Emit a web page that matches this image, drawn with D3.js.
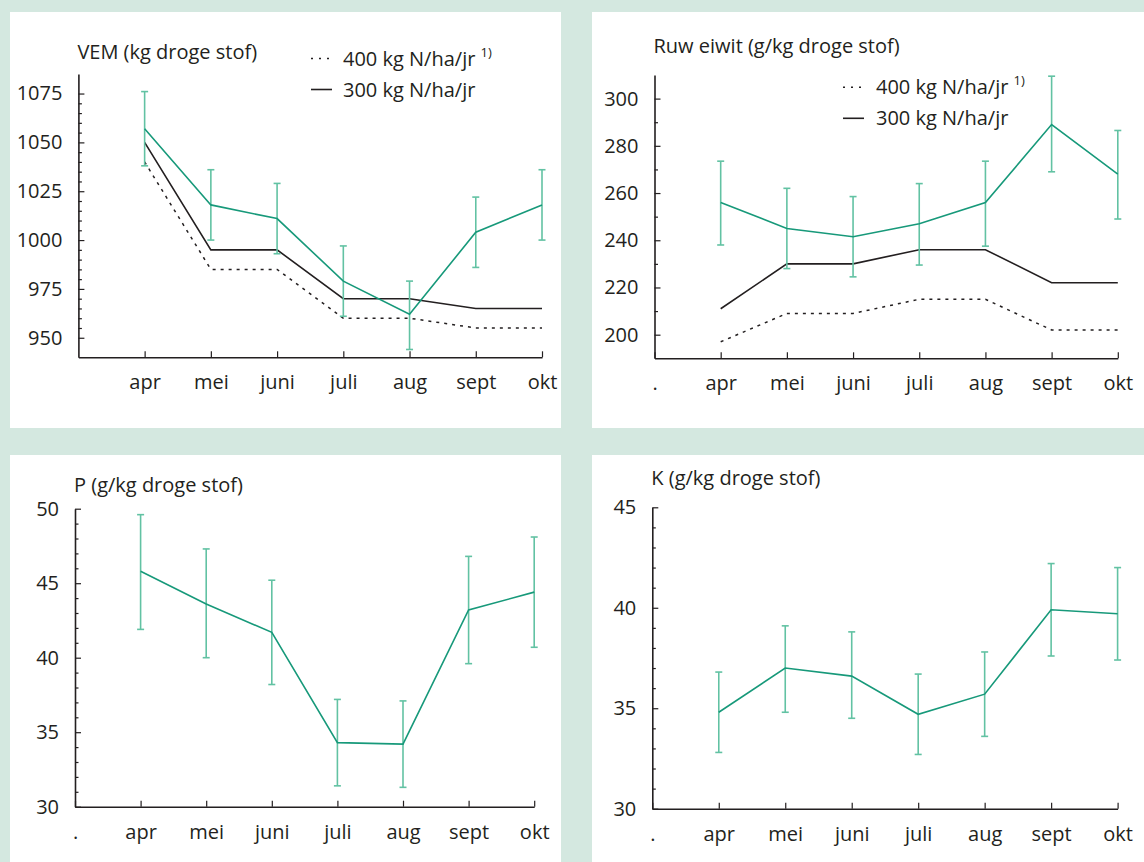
<!DOCTYPE html>
<html><head><meta charset="utf-8">
<script src="https://cdn.jsdelivr.net/npm/d3@7"></script>
<style>
body{margin:0;background:#d4e8e0;}
svg{display:block;}
text{font-family:"Open Sans",sans-serif;fill:#231f20;}
</style>
</head><body>
<svg id="c" width="1144" height="862"></svg>
<script>
// ---------- data ----------
const months = ["apr","mei","juni","juli","aug","sept","okt"];
const catsDot = [".","apr","mei","juni","juli","aug","sept","okt"];

const vemTicks = [950,975,1000,1025,1050,1075];
const vemMean = [1057,1018,1011,979,962,1004,1018];
const vemLow  = [1038,1000,993,961,944,986,1000];
const vemHigh = [1076,1036,1029,997,979,1022,1036];
const vem300  = [1050,995,995,970,970,965,965];
const vem400  = [1040,985,985,960,960,955,955];

const eiwitTicks = [200,220,240,260,280,300];
const eiwitMean = [256,245,241.5,247,256,289,268];
const eiwitLow  = [238,228,224.5,229.5,237.5,269,249];
const eiwitHigh = [273.5,262,258.5,264,273.5,309.5,286.5];
const eiwit300  = [211,230,230,236,236,222,222];
const eiwit400  = [197,209,209,215,215,202,202];

const pTicks = [30,35,40,45,50];
const pMean = [45.8,43.6,41.7,34.3,34.2,43.2,44.4];
const pLow  = [41.9,40.0,38.2,31.4,31.3,39.6,40.7];
const pHigh = [49.6,47.3,45.2,37.2,37.1,46.8,48.1];

const kTicks = [30,35,40,45];
const kMean = [34.8,37.0,36.6,34.7,35.7,39.9,39.7];
const kLow  = [32.8,34.8,34.5,32.7,33.6,37.6,37.4];
const kHigh = [36.8,39.1,38.8,36.7,37.8,42.2,42.0];

const legend400 = "400 kg N/ha/jr";
const legend300 = "300 kg N/ha/jr";
const legendSup = "1)";

// ---------- layout ----------
const GREEN = "#17997a", ERR = "#62c2a3";
const FS = 20;

const panels = [
  {rect:[10,12,551,416], x0:78.4, x1:542, yTop:74, yBot:357.3, domain:[940,1085], ticks:vemTicks, minor:5,
   tickCats:months, title:"VEM (kg droge stof)", titleY:58.7,
   mean:vemMean, low:vemLow, high:vemHigh, s300:vem300, s400:vem400, legend:{x:311, y:58.5, tx:343, dy:31}},
  {rect:[592,12,552,416], x0:654.5, x1:1117.8, yTop:75, yBot:358.3, domain:[190,310], ticks:eiwitTicks, minor:10,
   tickCats:catsDot, title:"Ruw eiwit (g/kg droge stof)", titleY:53.3,
   mean:eiwitMean, low:eiwitLow, high:eiwitHigh, s300:eiwit300, s400:eiwit400, legend:{x:843, y:87.3, tx:876, dy:31}},
  {rect:[10,455,551,407], x0:75, x1:534.2, yTop:508.7, yBot:806.7, domain:[30,50], ticks:pTicks, minor:1,
   tickCats:catsDot, title:"P (g/kg droge stof)", titleY:491.7,
   mean:pMean, low:pLow, high:pHigh},
  {rect:[592,455,552,407], x0:652.3, x1:1117.6, yTop:507.3, yBot:808.7, domain:[30,45], ticks:kTicks, minor:1,
   tickCats:catsDot, title:"K (g/kg droge stof)", titleY:485,
   mean:kMean, low:kLow, high:kHigh}
];

const svg = d3.select("#c");

panels.forEach(p => {
  const g = svg.append("g");
  g.append("rect").attr("x",p.rect[0]).attr("y",p.rect[1]).attr("width",p.rect[2]).attr("height",p.rect[3]).attr("fill","#fff");

  const x = d3.scalePoint().domain(catsDot).range([p.x0,p.x1]).padding(0);
  const y = d3.scaleLinear().domain(p.domain).range([p.yBot,p.yTop]);

  // minor y ticks
  const mn = d3.min(p.ticks), mx = d3.max(p.ticks);
  const minors = d3.range(mn, mx + p.minor/2, p.minor).filter(v => !p.ticks.some(t => Math.abs(t-v) < 1e-9));
  g.append("g").attr("transform",`translate(${p.x0},0)`)
    .call(d3.axisLeft(y).tickValues(minors).tickSize(-3.5).tickFormat(""))
    .call(a => a.select(".domain").remove())
    .call(a => a.selectAll("line").attr("stroke","#231f20").attr("stroke-width",1.2));

  // y axis
  g.append("g").attr("transform",`translate(${p.x0},0)`)
    .call(d3.axisLeft(y).tickValues(p.ticks).tickFormat(d3.format("d")).tickSize(-6).tickSizeOuter(0).tickPadding(16))
    .call(a => a.select(".domain").attr("stroke","#231f20").attr("stroke-width",1.6))
    .call(a => a.selectAll("line").attr("stroke","#231f20").attr("stroke-width",1.2))
    .call(a => a.selectAll("text").attr("font-size",FS).attr("font-family","Open Sans").attr("fill","#231f20"));

  // x axis
  g.append("g").attr("transform",`translate(0,${p.yBot})`)
    .call(d3.axisBottom(x).tickValues(p.tickCats).tickSize(-6).tickSizeOuter(0).tickPadding(18))
    .call(a => a.select(".domain").attr("stroke","#231f20").attr("stroke-width",1.6))
    .call(a => a.selectAll("line").attr("stroke","#231f20").attr("stroke-width",1.2))
    .call(a => a.selectAll("text").attr("font-size",FS).attr("font-family","Open Sans").attr("fill","#231f20"));

  // title
  g.append("text").attr("x",p.x0-1).attr("y",p.titleY).attr("font-size",FS).text(p.title);

  const line = d3.line().x((d,i)=>x(months[i])).y(d=>y(d));

  // comparison series
  if (p.s400) {
    g.append("path").datum(p.s400).attr("d",line).attr("fill","none")
      .attr("stroke","#231f20").attr("stroke-width",1.5).attr("stroke-dasharray","3,5");
    g.append("path").datum(p.s300).attr("d",line).attr("fill","none")
      .attr("stroke","#231f20").attr("stroke-width",1.6);
  }

  // error bars
  const eb = g.append("g").attr("stroke",ERR).attr("stroke-width",1.6);
  months.forEach((m,i) => {
    const cx = x(m);
    eb.append("line").attr("x1",cx).attr("x2",cx).attr("y1",y(p.low[i])).attr("y2",y(p.high[i]));
    eb.append("line").attr("x1",cx-3.5).attr("x2",cx+3.5).attr("y1",y(p.low[i])).attr("y2",y(p.low[i]));
    eb.append("line").attr("x1",cx-3.5).attr("x2",cx+3.5).attr("y1",y(p.high[i])).attr("y2",y(p.high[i]));
  });

  // mean line
  g.append("path").datum(p.mean).attr("d",line).attr("fill","none")
    .attr("stroke",GREEN).attr("stroke-width",1.6);

  // legend
  if (p.legend) {
    const L = p.legend;
    g.append("line").attr("x1",L.x).attr("x2",L.x+20).attr("y1",L.y).attr("y2",L.y)
      .attr("stroke","#231f20").attr("stroke-width",1.5).attr("stroke-dasharray","2,6");
    const t1 = g.append("text").attr("x",L.tx).attr("y",L.y+7).attr("font-size",FS);
    t1.append("tspan").text(legend400 + " ");
    t1.append("tspan").attr("font-size",13).attr("dy",-9).text(legendSup);
    g.append("line").attr("x1",L.x).attr("x2",L.x+21).attr("y1",L.y+L.dy).attr("y2",L.y+L.dy)
      .attr("stroke","#231f20").attr("stroke-width",1.6);
    g.append("text").attr("x",L.tx).attr("y",L.y+L.dy+7).attr("font-size",FS).text(legend300);
  }
});
</script>
</body></html>
